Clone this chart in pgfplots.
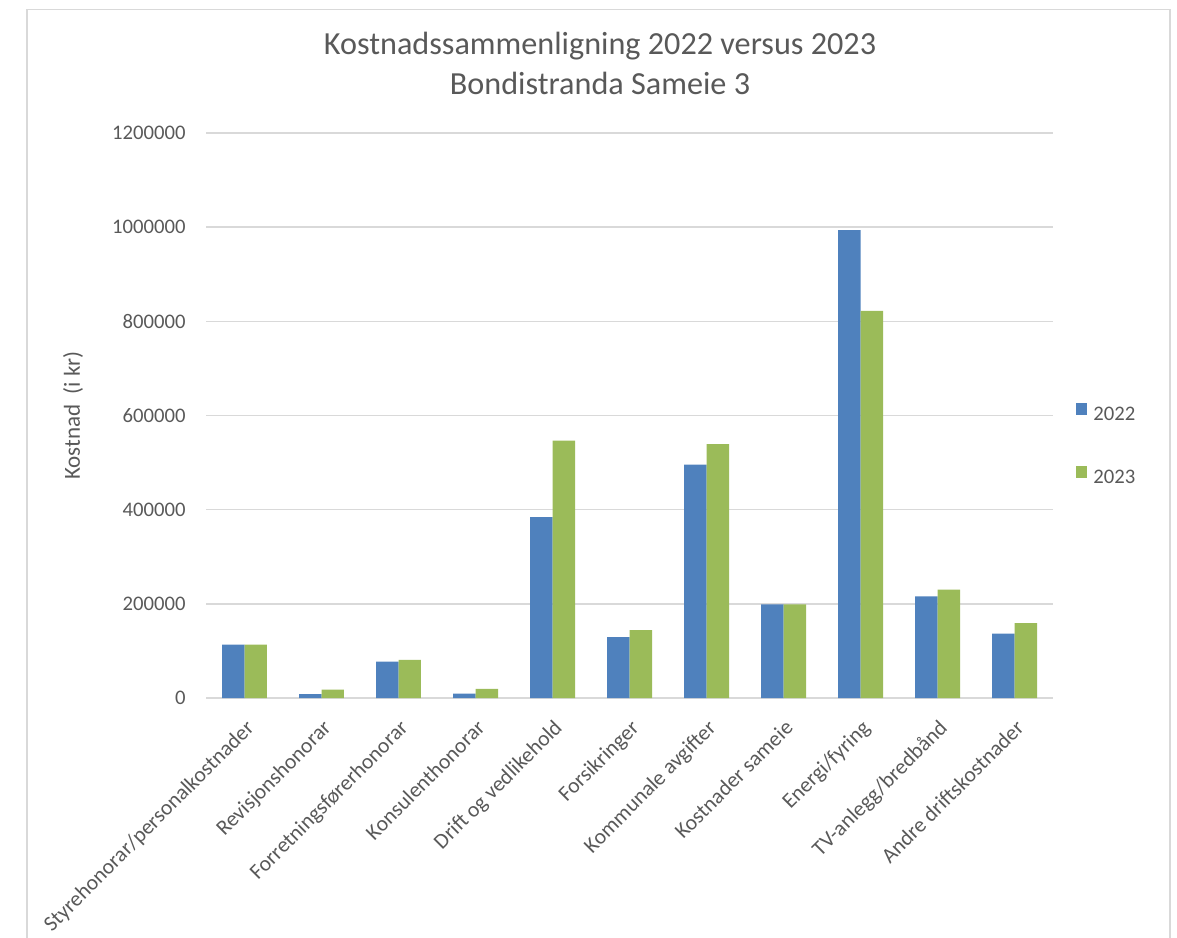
\documentclass[border=0pt]{standalone}
\usepackage{fontspec}
\setmainfont{Carlito}
\usepackage{pgfplots}
\pgfplotsset{compat=1.18}
\definecolor{txt}{HTML}{595959}
\definecolor{b1}{HTML}{4F81BD}
\definecolor{g1}{HTML}{9BBB59}
\definecolor{grd}{HTML}{D9D9D9}
\definecolor{frm}{HTML}{D9D9D9}
\begin{document}
\begin{tikzpicture}
\useasboundingbox (0,0) rectangle (511.76pt,-407.84pt);
\draw[frm, line width=0.6pt] (11.74pt,-420pt) -- (11.74pt,-4pt) -- (508.7pt,-4pt) -- (508.7pt,-420pt);
\node[anchor=base, text=txt, font=\fontsize{14}{17}\selectfont, inner sep=0pt] at (260.9pt,-23.9pt) {Kostnadssammenligning 2022 versus 2023};
\node[anchor=base, text=txt, font=\fontsize{14}{17}\selectfont, inner sep=0pt] at (260.9pt,-41.3pt) {Bondistranda Sameie 3};
\begin{axis}[
  at={(89.57pt,-303.49pt)}, anchor=south west,
  width=368.28pt, height=245.66pt, scale only axis,
  xmin=-0.5, xmax=10.5, ymin=0, ymax=1200000,
  ytick={0,200000,400000,600000,800000,1000000,1200000},
  scaled y ticks=false,
  /pgf/number format/assume math mode=true,
  tick label style={font=\fontsize{9}{11}\selectfont, text=txt},
  yticklabel style={/pgf/number format/fixed, /pgf/number format/1000 sep={}, inner sep=0pt, xshift=-8.7pt},
  ybar=0pt, bar width=9.78pt,
  xtick={0,...,10},
  xticklabels={Styrehonorar/personalkostnader, Revisjonshonorar, Forretningsførerhonorar, Konsulenthonorar, Drift og vedlikehold, Forsikringer, Kommunale avgifter, Kostnader sameie, Energi/fyring, TV-anlegg/bredbånd, Andre driftskostnader},
  x tick label style={anchor=north east, inner sep=0pt, yshift=-8.7pt, rotate=45, font=\fontsize{9.4}{11}\selectfont},
  major tick length=0pt,
  ymajorgrids, grid style={grd, line width=0.7pt},
  axis x line*=bottom, axis y line*=left,
  x axis line style={grd, line width=0.7pt, -},
  y axis line style={draw=none},
  ylabel={Kostnad\ \ (i kr)},
  every axis y label/.style={at={(axis description cs:-0.157,0.5)}, rotate=90, anchor=center, font=\fontsize{10}{12}\selectfont, text=txt},
  legend style={at={(axis description cs:1.026,0.448)}, anchor=west, draw=none, fill=none, font=\fontsize{9}{11}\selectfont, text=txt, row sep=18.6pt, inner sep=0pt, nodes={inner sep=0pt}, /tikz/every odd column/.append style={column sep=2.6pt}},
  legend cell align=left,
  legend image code/.code={\fill[#1] (0pt,0pt) rectangle (5.2pt,5.2pt);},
]
\addplot[fill=b1, draw=none] coordinates {(0,113500) (1,8500) (2,77500) (3,9300) (4,384000) (5,129500) (6,495500) (7,198700) (8,994000) (9,216000) (10,136500)};
\addplot[fill=g1, draw=none] coordinates {(0,113500) (1,17800) (2,81000) (3,19200) (4,546500) (5,144400) (6,539500) (7,198700) (8,822000) (9,230000) (10,159000)};
\legend{2022,2023}
\end{axis}
\end{tikzpicture}
\end{document}
